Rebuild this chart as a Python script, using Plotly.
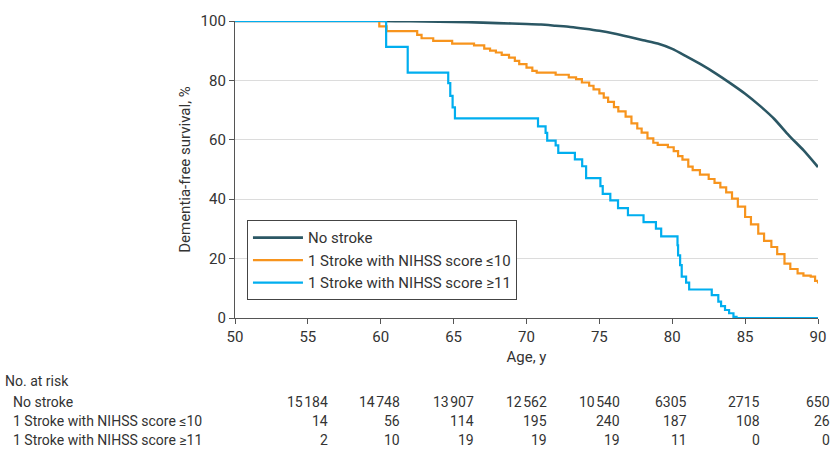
import plotly.graph_objects as go

# ---------------- data ----------------
no_stroke_age = [50, 55, 58, 60, 62, 64, 66, 68, 70, 71, 72, 73, 74, 75, 76, 77, 78, 79, 80,
                 81, 82, 83, 84, 85, 86, 87, 88, 89, 90]
no_stroke_surv = [100, 100, 100, 100, 99.9, 99.8, 99.6, 99.3, 99.0, 98.8, 98.4, 98.0, 97.4, 96.7,
                  95.8, 94.7, 93.5, 92.4, 90.6, 88.0, 85.3, 82.3, 79.0, 75.5, 71.5, 67.0, 61.5,
                  56.5, 50.8]

mild_age = [50, 59.9, 60.4, 62.5, 62.8, 63.6, 64.9, 66.4, 67.1, 67.5, 67.9, 68.3, 68.8, 69.2,
            69.5, 70.0, 70.4, 70.7, 72.0, 72.9, 73.4, 73.8, 74.3, 74.6, 75.0, 75.3, 75.6, 76.0,
            76.3, 76.8, 77.2, 77.6, 77.9, 78.3, 78.7, 79.0, 79.7, 80.1, 80.4, 80.7, 81.1, 81.4,
            81.9, 82.5, 82.9, 83.3, 83.7, 84.1, 84.5, 85.0, 85.4, 85.9, 86.3, 86.8, 87.2, 87.7,
            88.1, 88.6, 89.0, 89.5, 89.8, 90]
mild_surv = [100, 98.2, 96.6, 95.3, 94.2, 93.3, 92.4, 91.8, 90.7, 90.0, 89.4, 88.6, 87.7, 86.6,
             85.5, 84.3, 83.2, 82.6, 81.9, 81.0, 80.4, 79.3, 78.2, 77.0, 75.6, 74.2, 72.8, 71.0,
             69.6, 67.8, 65.5, 63.8, 62.4, 60.5, 59.0, 58.3, 57.5, 56.2, 54.5, 53.3, 51.0, 49.8,
             48.3, 46.8, 45.5, 44.0, 42.3, 40.2, 37.5, 34.0, 31.5, 28.4, 26.0, 23.9, 21.5, 18.3,
             16.5, 15.0, 14.3, 13.9, 12.5, 11.6]

severe_age = [50, 60.37, 61.85, 64.63, 64.77, 64.93, 65.09, 70.79, 71.31, 71.42, 72.0, 72.18,
              73.32, 73.82, 74.09, 75.07, 75.23, 75.75, 76.28, 76.96, 78.03, 78.88, 79.24, 80.36,
              80.4, 80.54, 80.65, 80.95, 81.16, 82.71, 83.16, 83.35, 83.62, 83.9, 84.2, 84.41, 90]
severe_surv = [100, 91.3, 82.6, 79.1, 74.8, 70.9, 67.2, 64.5, 62.3, 59.7, 58.1, 55.6,
               53.4, 51.1, 47.1, 44.4, 41.8, 39.6, 37.0, 34.6, 32.3, 30.1, 27.5, 24.5,
               21.1, 17.8, 13.9, 11.9, 9.6, 7.7, 5.5, 4.0, 2.7, 1.6, 0.4, 0, 0]

series_names = ["No stroke", "1 Stroke with NIHSS score ≤10", "1 Stroke with NIHSS score ≥11"]

x_ticks = [50, 55, 60, 65, 70, 75, 80, 85, 90]
y_ticks = [0, 20, 40, 60, 80, 100]

risk_no_stroke = [15184, 14748, 13907, 12562, 10540, 6305, 2715, 650]
risk_mild = [14, 56, 114, 195, 240, 187, 108, 26]
risk_severe = [2, 10, 19, 19, 19, 11, 0, 0]

# ---------------- styling ----------------
FONT = "Liberation Sans Narrow, Roboto, Arial Narrow, sans-serif"
TXT = "#333333"
C_DARK = "#2b5764"
C_ORANGE = "#f7941d"
C_BLUE = "#00aeef"

W, H = 838, 450
ML, MR, MT, MB = 235, 18, 20, 132
PW, PH = W - ML - MR, H - MT - MB

fig = go.Figure()
fig.add_trace(go.Scatter(x=no_stroke_age, y=no_stroke_surv, mode="lines", name=series_names[0],
                         line=dict(color=C_DARK, width=2.6, shape="spline", smoothing=0.6),
                         cliponaxis=False))
fig.add_trace(go.Scatter(x=mild_age, y=mild_surv, mode="lines", name=series_names[1],
                         line=dict(color=C_ORANGE, width=2.2, shape="hv"), cliponaxis=False))
fig.add_trace(go.Scatter(x=severe_age, y=severe_surv, mode="lines", name=series_names[2],
                         line=dict(color=C_BLUE, width=2.2, shape="hv"), cliponaxis=False))

fig.update_layout(
    width=W, height=H,
    margin=dict(l=ML, r=MR, t=MT, b=MB, pad=0),
    paper_bgcolor="white", plot_bgcolor="white",
    font=dict(family=FONT, size=14, color=TXT),
    showlegend=True,
    legend=dict(x=(247 - ML) / PW, y=(MT + PH - 220) / PH, xanchor="left", yanchor="top",
                bgcolor="white", bordercolor="#444444", borderwidth=1,
                font=dict(family=FONT, size=15, color=TXT),
                tracegroupgap=0, itemwidth=50),
    xaxis=dict(range=[50, 90], tickvals=x_ticks, ticktext=[str(v) for v in x_ticks],
               showgrid=False, zeroline=False, showline=True, linecolor="#555555", linewidth=1.2,
               ticks="outside", ticklen=5, tickcolor="#555555", tickwidth=1,
               tickfont=dict(family=FONT, size=15, color=TXT),
               title=dict(text="Age, y", font=dict(family=FONT, size=15, color=TXT), standoff=6)),
    yaxis=dict(range=[0, 100], tickvals=y_ticks, ticktext=[str(v) for v in y_ticks],
               showgrid=True, gridcolor="#dcdcdc", gridwidth=1, zeroline=False,
               showline=True, linecolor="#555555", linewidth=1.2,
               ticks="outside", ticklen=5, tickcolor="#555555", tickwidth=1,
               tickfont=dict(family=FONT, size=15, color=TXT),
               title=dict(text="Dementia-free survival, %", font=dict(family=FONT, size=15, color=TXT),
                          standoff=6)),
)


def px_to_paper_x(px):
    return (px - ML) / PW


def py_to_paper_y(py):
    return (MT + PH - py) / PH


def fmt(v):
    s = str(v)
    if len(s) >= 5:
        s = s[:-3] + "\u200a" + s[-3:]
    return s


anns = []
anns.append(dict(text="No. at risk", x=px_to_paper_x(2), y=py_to_paper_y(381), xref="paper",
                 yref="paper", xanchor="left", yanchor="middle", showarrow=False,
                 font=dict(family=FONT, size=14, color=TXT)))
col_right_px = [330, 403, 477, 550, 623, 691, 764, 834]
row_y_px = [402, 421, 440]
rows = [risk_no_stroke, risk_mild, risk_severe]
for name, vals, ypx in zip(series_names, rows, row_y_px):
    anns.append(dict(text=name, x=px_to_paper_x(10), y=py_to_paper_y(ypx), xref="paper",
                     yref="paper", xanchor="left", yanchor="middle", showarrow=False,
                     font=dict(family=FONT, size=14, color=TXT)))
    for v, xr in zip(vals, col_right_px):
        anns.append(dict(text=fmt(v), x=px_to_paper_x(xr), y=py_to_paper_y(ypx), xref="paper",
                         yref="paper", xanchor="right", yanchor="middle", showarrow=False,
                         font=dict(family=FONT, size=14, color=TXT)))
fig.update_layout(annotations=anns)

fig.write_html("out.html", config={"displayModeBar": False},
               post_script="document.body.style.margin='0px';document.body.style.overflow='hidden';")
